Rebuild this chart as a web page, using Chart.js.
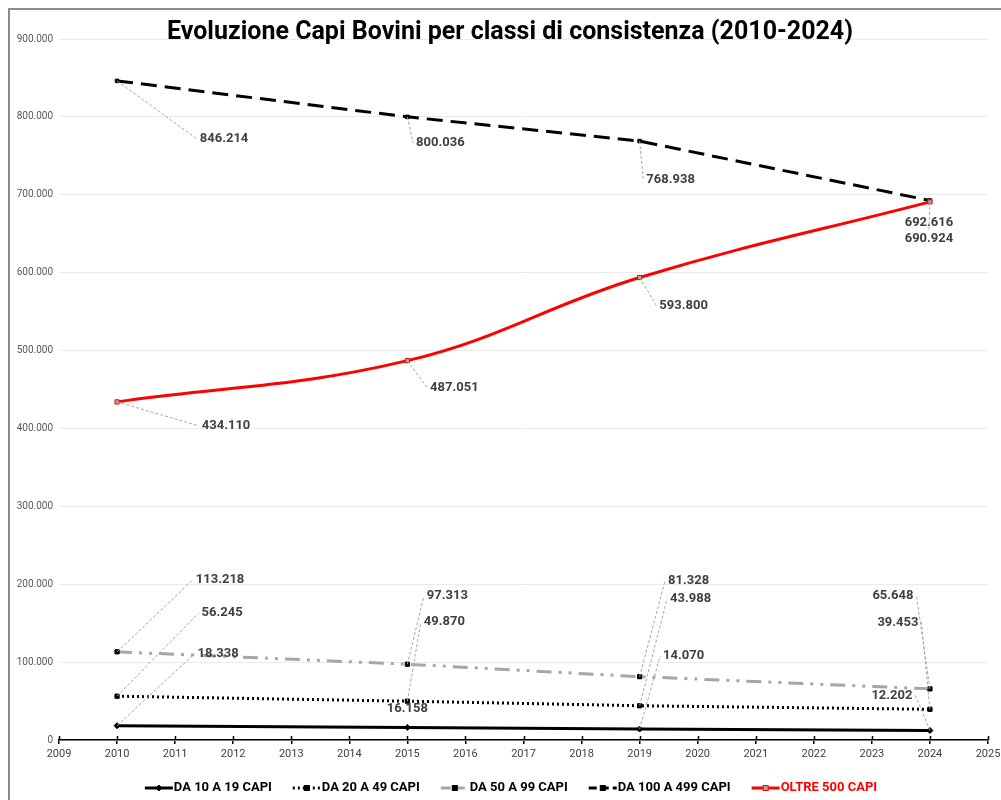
<!DOCTYPE html>
<html lang="it">
<head>
<meta charset="UTF-8" />
<style>
  body { margin:0; background:#fff; }
  #frame {
    position:absolute; left:8px; top:8px; width:1001px; height:800px;
    border-top:2px solid #8c8c8c; border-left:2px solid #8c8c8c;
  }
  #wrap { position:absolute; left:0; top:0; width:1001px; height:800px; }
</style>
<title>Evoluzione Capi Bovini</title>
</head>
<body>
<div id="frame"></div>
<div id="wrap"><canvas id="chart"></canvas></div>

<script src="https://cdn.jsdelivr.net/npm/chart.js"></script>
<script>
// dati
const anni = [2010, 2015, 2019, 2024];
const da10a19 = [18338, 16158, 14070, 12202];
const da20a49 = [56245, 49870, 43988, 39453];
const da50a99 = [113218, 97313, 81328, 65648];
const da100a499 = [846214, 800036, 768938, 692616];
const oltre500 = [434110, 487051, 593800, 690924];
const nomi = ['DA 10 A 19 CAPI', 'DA 20 A 49 CAPI', 'DA 50 A 99 CAPI', 'DA 100 A 499 CAPI', 'OLTRE 500 CAPI'];
const titolo = 'Evoluzione Capi Bovini per classi di consistenza (2010-2024)';

// spostamento etichette (px dal punto al centro del testo)
const offLabel = [
  [[101,-72],[0,-19],[44,-73],[-38,-35]],
  [[105,-83],[37,-79],[51,-107],[-32,-87]],
  [[103,-72],[40,-68],[49,-96],[-37,-93]],
  [[107,58],[33,26],[31,39],[-1,22]],
  [[109,24],[47,27],[44,28],[-1,37]]
];

function fmt(v) {
  return String(Math.round(v)).replace(/\B(?=(\d{3})+(?!\d))/g, '.');
}

function punti(arr) {
  return arr.map((v, i) => ({x: anni[i], y: v}));
}

const stili = [
  {color:'#000000', dash:[], pt:'rectRot', r:3, fill:'#000'},
  {color:'#000000', dash:[2,3], pt:'rect', r:3, fill:'#000'},
  {color:'#a6a6a6', dash:[15,7,3,7,3,7], pt:'rect', r:3, fill:'#000'},
  {color:'#000000', dash:[16,8], pt:'rect', r:2.5, fill:'#000'},
  {color:'#ff0000', dash:[], pt:'rect', r:3, fill:'#a6a6a6'}
];
const serie = [da10a19, da20a49, da50a99, da100a499, oltre500];

const datasets = serie.map((s, i) => ({
  label: nomi[i],
  data: punti(s),
  borderColor: stili[i].color,
  borderWidth: 3,
  borderDash: stili[i].dash,
  pointStyle: stili[i].pt,
  pointRadius: stili[i].r,
  pointBackgroundColor: stili[i].fill,
  pointBorderColor: i === 4 ? '#ff0000' : '#000',
  pointBorderWidth: 1,
  tension: i === 4 ? 0.4 : 0,
  order: 5 - i
}));

const extra = {
  id: 'extra',
  afterDatasetsDraw(chart) {
    const c = chart.ctx;
    const xs = chart.scales.x, ys = chart.scales.y;
    // tacche asse x sopra la linea
    c.save();
    c.strokeStyle = '#000'; c.lineWidth = 1.5;
    xs.ticks.forEach(t => {
      const px = Math.round(xs.getPixelForValue(t.value)) + 0.5;
      c.beginPath(); c.moveTo(px, ys.bottom - 4); c.lineTo(px, ys.bottom); c.stroke();
    });
    c.restore();

    // etichette con linee guida
    c.save();
    c.font = 'bold 13px Roboto';
    c.textAlign = 'center'; c.textBaseline = 'middle';
    chart.data.datasets.forEach((ds, di) => {
      const meta = chart.getDatasetMeta(di);
      meta.data.forEach((el, j) => {
        const txt = fmt(serie[di][j]);
        const o = offLabel[di][j];
        const tx = el.x + o[0], ty = el.y + o[1];
        const w = c.measureText(txt).width;
        const dist = Math.hypot(o[0], o[1]);
        if (dist > 24) {
          let ex, ey;
          if (Math.abs(o[0]) > w / 2 + 4) {
            ex = o[0] > 0 ? tx - w / 2 - 3 : tx + w / 2 + 3;
            ey = ty;
          } else {
            ex = tx; ey = o[1] > 0 ? ty - 8 : ty + 8;
          }
          c.save();
          c.strokeStyle = '#a6a6a6'; c.lineWidth = 1; c.setLineDash([3,2]);
          c.beginPath(); c.moveTo(el.x, el.y); c.lineTo(ex, ey); c.stroke();
          c.restore();
        }
        c.fillStyle = '#404040';
        c.fillText(txt, tx, ty);
      });
    });
    c.restore();
  },
  afterDraw(chart) {
    const c = chart.ctx;
    c.save();
    // titolo
    c.font = 'bold 25px Roboto';
    c.fillStyle = '#000';
    c.textAlign = 'center'; c.textBaseline = 'middle';
    c.fillText(titolo, 510, 33);

    // legenda
    c.font = 'bold 13px Roboto';
    c.textBaseline = 'middle';
    c.textAlign = 'left';
    const sw = 28, tg = 1, gap = 21;
    const widths = nomi.map(n => sw + tg + c.measureText(n).width);
    const tot = widths.reduce((a, b) => a + b, 0) + gap * (nomi.length - 1);
    let x = 511 - tot / 2;
    const y = 788;
    nomi.forEach((n, i) => {
      const st = stili[i];
      c.save();
      c.strokeStyle = st.color; c.lineWidth = 3;
      c.setLineDash(i === 2 ? [10,4] : (i === 3 ? [8,4] : st.dash));
      c.beginPath(); c.moveTo(x, y); c.lineTo(x + sw, y); c.stroke();
      c.setLineDash([]);
      c.fillStyle = st.fill;
      c.strokeStyle = i === 4 ? '#ff0000' : '#000'; c.lineWidth = 1;
      const mx = x + sw / 2;
      if (st.pt === 'rectRot') {
        c.beginPath(); c.moveTo(mx, y - 3); c.lineTo(mx + 3, y); c.lineTo(mx, y + 3); c.lineTo(mx - 3, y); c.closePath();
        c.fill(); c.stroke();
      } else {
        c.fillRect(mx - 2.5, y - 2.5, 5, 5); c.strokeRect(mx - 2.5, y - 2.5, 5, 5);
      }
      c.restore();
      c.fillStyle = i === 4 ? '#ff0000' : '#000';
      c.fillText(n, x + sw + tg, y);
      x += widths[i] + gap;
    });
    c.restore();
  }
};

new Chart(document.getElementById('chart'), {
  type: 'line',
  data: { datasets },
  options: {
    responsive: true,
    maintainAspectRatio: false,
    animation: false,
    layout: { padding: { left: 9, right: 0, top: 39, bottom: 30 } },
    plugins: { legend: { display: false }, tooltip: { enabled: false } },
    scales: {
      x: {
        type: 'linear', min: 2009, max: 2025,
        ticks: { stepSize: 1, color: '#404040', font: { family: 'Roboto', size: 11 }, padding: 4,
                 callback: v => String(v) },
        grid: { drawOnChartArea: false, drawTicks: true, tickLength: 4, color: '#000', lineWidth: 1.5 },
        border: { color: '#000', width: 1.5 },
        afterFit: s => { s.height = 30; s.paddingRight = 13; s.paddingLeft = 0; }
      },
      y: {
        min: 0, max: 900000,
        ticks: { stepSize: 100000, color: '#595959', font: { family: 'Roboto', size: 10 }, padding: 6,
                 callback: v => fmt(v) },
        grid: { color: '#ebebeb', drawTicks: false, lineWidth: 1 },
        border: { display: false },
        afterFit: s => { s.width = 50; }
      }
    }
  },
  plugins: [extra]
});
</script>
</body>
</html>
